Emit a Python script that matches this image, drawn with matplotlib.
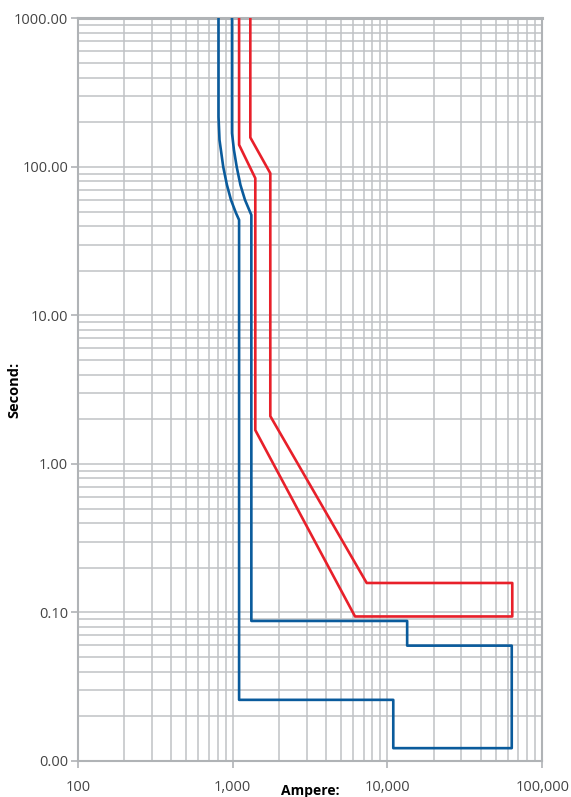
import numpy as np
import matplotlib
matplotlib.use("Agg")
import matplotlib.pyplot as plt
from matplotlib.ticker import FixedLocator, FixedFormatter, LogLocator, NullFormatter

plt.rcParams['font.family'] = ['Open Sans', 'DejaVu Sans']

# --- Trip curve data (Ampere, Second) ---
red_amps = [1300, 1300, 1750, 1750, 7340, 64000, 64000, 6170, 1400, 1400, 1100, 1100]
red_secs = [1000, 158, 90.7, 2.1, 0.158, 0.158, 0.094, 0.094, 1.69, 84, 141, 1000]

blue_amps = [810, 810, 822, 869, 918, 975, 1050, 1100, 1100, 10900, 10900, 63500,
             63500, 13400, 13400, 1320, 1320, 1201, 1122, 1062, 1019, 990, 990]
blue_secs = [1000, 218, 152, 100, 75.7, 60, 49, 44, 0.0258, 0.0258, 0.0122, 0.0122,
             0.0598, 0.0598, 0.0877, 0.0877, 47.5, 60, 75.7, 100, 130, 169, 1000]

x_ticks = [100, 1000, 10000, 100000]
x_labels = ["100", "1,000", "10,000", "100,000"]
y_ticks = [0.01, 0.1, 1, 10, 100, 1000]
y_labels = ["0.00", "0.10", "1.00", "10.00", "100.00", "1000.00"]

red = "#e8202a"
blue = "#0a5b9c"
grid_c = "#c0c2c5"
spine_c = "#b0b3b6"

fig = plt.figure(figsize=(5.71, 7.97), dpi=100)
ax = fig.add_axes([0.1364, 0.0452, 0.8133, 0.9316])
ax.set_xscale("log")
ax.set_yscale("log")
ax.set_xlim(100, 100000)
ax.set_ylim(0.01, 1000)

ax.plot(red_amps, red_secs, color=red, lw=1.9, zorder=3)
ax.plot(blue_amps, blue_secs, color=blue, lw=1.9, zorder=3)

# grid
ax.xaxis.set_major_locator(FixedLocator(x_ticks))
ax.xaxis.set_major_formatter(FixedFormatter(x_labels))
ax.yaxis.set_major_locator(FixedLocator(y_ticks))
ax.yaxis.set_major_formatter(FixedFormatter(y_labels))
ax.xaxis.set_minor_locator(LogLocator(base=10, subs=np.arange(2, 10)))
ax.yaxis.set_minor_locator(LogLocator(base=10, subs=np.arange(2, 10)))
ax.xaxis.set_minor_formatter(NullFormatter())
ax.yaxis.set_minor_formatter(NullFormatter())
ax.grid(True, which="both", color=grid_c, lw=1.1, zorder=0)
ax.set_axisbelow(True)

ax.tick_params(axis="both", which="minor", length=0)
ax.tick_params(axis="both", which="major", length=5, width=1.2, color=spine_c,
               labelsize=10.5, labelcolor="#444444")
ax.tick_params(axis="x", which="major", pad=9)
ax.tick_params(axis="y", which="major", pad=2)

for side in ["left", "bottom", "top", "right"]:
    ax.spines[side].set_color(spine_c)
    ax.spines[side].set_linewidth(1.5)
ax.spines["top"].set_linewidth(2.2)

ax.set_xlabel("Ampere:", fontsize=10, fontweight="bold")
ax.xaxis.set_label_coords(0.5, -0.031)
ax.set_ylabel("Second:", fontsize=10.5, fontweight="bold")
ax.yaxis.set_label_coords(-0.122, 0.5)

fig.savefig("out.png", dpi=100)
